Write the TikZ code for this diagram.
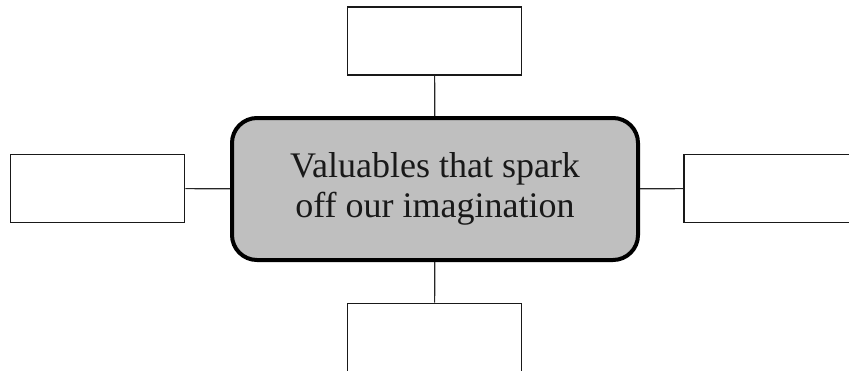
\documentclass[tikz,border=0pt]{standalone}
\usepackage{fontspec}
\setmainfont{Liberation Serif}

\begin{document}
\begin{tikzpicture}[x=0.5pt,y=-0.5pt,
        hub/.style={draw=black, line width=2pt, fill=black!25, rounded corners=12.5pt,
            minimum width=203pt, minimum height=71pt, align=center, text=black!90,
            font=\fontsize{18}{20}\selectfont},
        leaf/.style={draw=black!90, line width=0.9pt, fill=white, minimum width=87pt, minimum height=34pt},
        link/.style={draw=black!85, line width=0.6pt}]
    \useasboundingbox (0,0) rectangle (849,370);
    \node [hub] (hub) at (435,189) {Valuables that spark\\off our imagination};
    \node [leaf] (top) at (434.5,41) {};
    \node [leaf] (left) at (97.5,188.5) {};
    \node [leaf] (right) at (771,188.5) {};
    \node [leaf] (bottom) at (434.5,337.5) {};
    \draw [link] (top) -- (hub) (bottom) -- (hub)
        (left) -- (hub) (right) -- (hub);
\end{tikzpicture}
\end{document}
